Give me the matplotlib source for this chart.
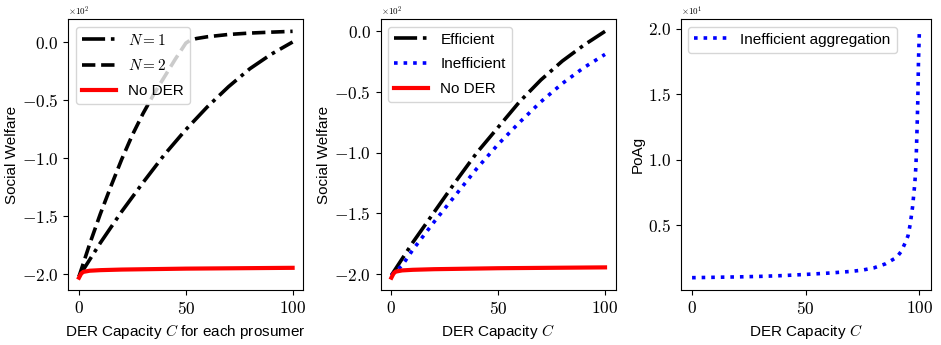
import matplotlib
matplotlib.use("Agg")
import matplotlib.pyplot as plt
from matplotlib.ticker import FuncFormatter, FixedLocator

plt.rcParams['font.family'] = ['Liberation Sans', 'DejaVu Sans']
plt.rcParams['mathtext.fontset'] = 'cm'

# ---------------- data ----------------
# Panel 1: social welfare vs DER capacity (values in absolute units)
c_n1 = [0, 10, 20, 30, 40, 50, 60, 70, 80, 90, 100]
sw_n1 = [-202, -173, -146, -121, -97, -75.5, -56, -38.5, -23, -10.5, 0.0]

c_n2 = [0, 5, 10, 15, 20, 25, 30, 35, 40, 45, 50, 52, 55, 60, 70, 80, 90, 100]
sw_n2 = [-202, -174, -148, -124, -101, -80, -61.5, -45, -30, -15, -1, 1.5, 3.0, 4.5, 6.5, 7.7, 8.5, 9.2]

c_nod = [0, 1, 2, 5, 10, 20, 50, 100]
sw_nod = [-203, -199.5, -198, -197, -196.5, -196, -195.2, -194.5]

# Panel 2
c_eff = [0, 10, 20, 30, 40, 50, 60, 70, 80, 90, 100]
sw_eff = [-201, -174, -149, -124, -100, -79, -58, -40, -24.5, -11.5, 0.0]

c_ineff = [0, 5, 10, 20, 30, 40, 50, 60, 70, 80, 90, 100]
sw_ineff = [-201, -193, -180, -157, -135, -113, -93, -75, -58, -43, -30, -19]

# Panel 3: price of aggregation
c_poag = [0, 10, 20, 30, 40, 50, 60, 70, 75, 80, 85, 88, 90, 92, 94, 95, 96, 97,
          97.5, 98, 98.5, 99, 99.3, 99.6, 100]
poag = [1.00, 1.03, 1.06, 1.10, 1.16, 1.25, 1.35, 1.48, 1.58, 1.75, 2.05, 2.35,
        2.55, 3.0, 3.75, 4.2, 5.1, 6.4, 7.3, 8.2, 9.6, 12.5, 14.5, 17.5, 19.8]

xticks = [0, 50, 100]
yticks_sw = [-200, -150, -100, -50, 0]
yticks_poag = [5, 10, 15, 20]

# ---------------- figure ----------------
fig = plt.figure(figsize=(9.41, 3.45), dpi=100)
ax1 = fig.add_axes([0.0726, 0.1594, 0.2497, 0.7855])
ax2 = fig.add_axes([0.4046, 0.1594, 0.2497, 0.7855])
ax3 = fig.add_axes([0.7234, 0.1594, 0.2657, 0.7855])

LW = 2.6
ax1.plot(c_n1, sw_n1, 'k-.', lw=LW, label=r'$N=1$')
ax1.plot(c_n2, sw_n2, 'k--', lw=LW, label=r'$N=2$')
ax1.plot(c_nod, sw_nod, 'r-', lw=3, label='No DER')

ax2.plot(c_eff, sw_eff, 'k-.', lw=LW, label='Efficient')
ax2.plot(c_ineff, sw_ineff, 'b:', lw=LW, label='Inefficient')
ax2.plot(c_nod, sw_nod, 'r-', lw=3, label='No DER')

ax3.plot(c_poag, poag, 'b:', lw=LW, label='Inefficient aggregation')


def make_fmt(scale):
    def f(v, p):
        s = f"{v/scale:.1f}" if scale != 1 else f"{int(round(v))}"
        return f"${s}$"
    return FuncFormatter(f)


for ax in (ax1, ax2, ax3):
    ax.xaxis.set_major_locator(FixedLocator(xticks))
    ax.xaxis.set_major_formatter(make_fmt(1))
    ax.tick_params(labelsize=12.5)
    ax.legend(loc='upper left', fontsize=11, handlelength=2.2,
              labelspacing=0.7)

for ax in (ax1, ax2):
    ax.yaxis.set_major_locator(FixedLocator(yticks_sw))
    ax.yaxis.set_major_formatter(make_fmt(100))
    ax.set_ylabel('Social Welfare', fontsize=11, labelpad=2)
    ax.text(0.0, 1.005, r'$\times10^{2}$', transform=ax.transAxes,
            fontsize=6.5, ha='left', va='bottom')

ax3.yaxis.set_major_locator(FixedLocator(yticks_poag))
ax3.yaxis.set_major_formatter(make_fmt(10))
ax3.set_ylabel('PoAg', fontsize=11, labelpad=2)
ax3.text(0.0, 1.005, r'$\times10^{1}$', transform=ax3.transAxes,
         fontsize=6.5, ha='left', va='bottom')

ax1.set_xlabel(r'DER Capacity $C$ for each prosumer', fontsize=11)
ax2.set_xlabel(r'DER Capacity $C$', fontsize=11)
ax3.set_xlabel(r'DER Capacity $C$', fontsize=11)

fig.savefig('out.png', dpi=100)
